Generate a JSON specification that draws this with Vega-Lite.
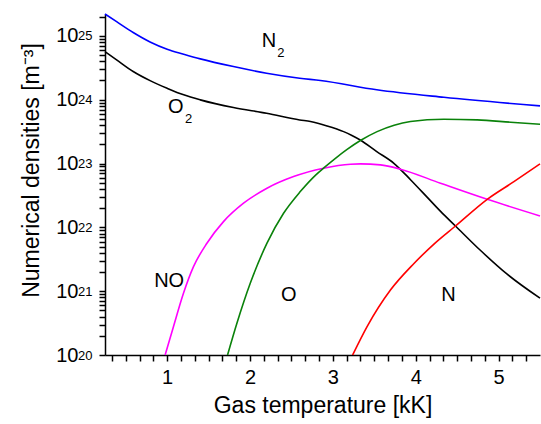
{
  "$schema": "https://vega.github.io/schema/vega-lite/v6.json",
  "width": 435,
  "height": 341,
  "autosize": {"type": "none"},
  "padding": {"left": 105, "top": 14, "right": 1, "bottom": 69},
  "config": {"view": {"stroke": null}},
  "datasets": {
    "curves": [
      {"T": 0.25, "n": 2.2e25, "species": "N2"},
      {"T": 0.39, "n": 1.67e25, "species": "N2"},
      {"T": 0.59, "n": 1.13e25, "species": "N2"},
      {"T": 0.8, "n": 7.96e24, "species": "N2"},
      {"T": 1.0, "n": 6.18e24, "species": "N2"},
      {"T": 1.2, "n": 5.16e24, "species": "N2"},
      {"T": 1.4, "n": 4.36e24, "species": "N2"},
      {"T": 1.8, "n": 3.3e24, "species": "N2"},
      {"T": 2.2, "n": 2.6e24, "species": "N2"},
      {"T": 2.6, "n": 2.17e24, "species": "N2"},
      {"T": 2.85, "n": 2.0e24, "species": "N2"},
      {"T": 3.53, "n": 1.43e24, "species": "N2"},
      {"T": 4.34, "n": 1.09e24, "species": "N2"},
      {"T": 5.5, "n": 8.0e23, "species": "N2"},

      {"T": 0.25, "n": 5.68e24, "species": "O2"},
      {"T": 0.39, "n": 4.21e24, "species": "O2"},
      {"T": 0.59, "n": 2.76e24, "species": "O2"},
      {"T": 0.8, "n": 1.97e24, "species": "O2"},
      {"T": 1.0, "n": 1.51e24, "species": "O2"},
      {"T": 1.2, "n": 1.19e24, "species": "O2"},
      {"T": 1.4, "n": 9.93e23, "species": "O2"},
      {"T": 1.8, "n": 7.52e23, "species": "O2"},
      {"T": 2.2, "n": 6.14e23, "species": "O2"},
      {"T": 2.6, "n": 4.82e23, "species": "O2"},
      {"T": 2.73, "n": 4.54e23, "species": "O2"},
      {"T": 2.93, "n": 3.88e23, "species": "O2"},
      {"T": 3.13, "n": 3.16e23, "species": "O2"},
      {"T": 3.23, "n": 2.75e23, "species": "O2"},
      {"T": 3.33, "n": 2.34e23, "species": "O2"},
      {"T": 3.53, "n": 1.54e23, "species": "O2"},
      {"T": 3.74, "n": 1.0e23, "species": "O2"},
      {"T": 3.94, "n": 5.53e22, "species": "O2"},
      {"T": 4.14, "n": 2.95e22, "species": "O2"},
      {"T": 4.3, "n": 1.78e22, "species": "O2"},
      {"T": 4.48, "n": 1.05e22, "species": "O2"},
      {"T": 4.78, "n": 4.37e21, "species": "O2"},
      {"T": 5.1, "n": 1.86e21, "species": "O2"},
      {"T": 5.5, "n": 7.76e20, "species": "O2"},

      {"T": 0.976, "n": 1.0e20, "species": "NO"},
      {"T": 1.076, "n": 2.78e20, "species": "NO"},
      {"T": 1.197, "n": 9.27e20, "species": "NO"},
      {"T": 1.318, "n": 2.42e21, "species": "NO"},
      {"T": 1.48, "n": 5.64e21, "species": "NO"},
      {"T": 1.68, "n": 1.23e22, "species": "NO"},
      {"T": 1.922, "n": 2.39e22, "species": "NO"},
      {"T": 2.205, "n": 4.1e22, "species": "NO"},
      {"T": 2.526, "n": 6.24e22, "species": "NO"},
      {"T": 2.889, "n": 8.43e22, "species": "NO"},
      {"T": 3.212, "n": 9.75e22, "species": "NO"},
      {"T": 3.333, "n": 9.86e22, "species": "NO"},
      {"T": 3.574, "n": 9.51e22, "species": "NO"},
      {"T": 3.816, "n": 8.15e22, "species": "NO"},
      {"T": 4.299, "n": 4.91e22, "species": "NO"},
      {"T": 4.863, "n": 2.75e22, "species": "NO"},
      {"T": 5.5, "n": 1.51e22, "species": "NO"},

      {"T": 1.729, "n": 1.0e20, "species": "O"},
      {"T": 1.842, "n": 3.14e20, "species": "O"},
      {"T": 2.003, "n": 1.33e21, "species": "O"},
      {"T": 2.205, "n": 5.64e21, "species": "O"},
      {"T": 2.405, "n": 1.66e22, "species": "O"},
      {"T": 2.607, "n": 3.63e22, "species": "O"},
      {"T": 2.789, "n": 6.53e22, "species": "O"},
      {"T": 2.909, "n": 8.91e22, "species": "O"},
      {"T": 3.05, "n": 1.26e23, "species": "O"},
      {"T": 3.172, "n": 1.66e23, "species": "O"},
      {"T": 3.332, "n": 2.29e23, "species": "O"},
      {"T": 3.534, "n": 3.16e23, "species": "O"},
      {"T": 3.74, "n": 3.98e23, "species": "O"},
      {"T": 3.937, "n": 4.54e23, "species": "O"},
      {"T": 4.339, "n": 4.94e23, "species": "O"},
      {"T": 4.743, "n": 4.82e23, "species": "O"},
      {"T": 5.145, "n": 4.44e23, "species": "O"},
      {"T": 5.5, "n": 4.13e23, "species": "O"},

      {"T": 3.239, "n": 1.0e20, "species": "N"},
      {"T": 3.413, "n": 2.78e20, "species": "N"},
      {"T": 3.695, "n": 1.04e21, "species": "N"},
      {"T": 3.976, "n": 2.69e21, "species": "N"},
      {"T": 4.23, "n": 5.62e21, "species": "N"},
      {"T": 4.48, "n": 1.05e22, "species": "N"},
      {"T": 4.863, "n": 2.75e22, "species": "N"},
      {"T": 5.185, "n": 5.2e22, "species": "N"},
      {"T": 5.5, "n": 9.86e22, "species": "N"}
    ],
    "speciesLabels": [
      {"T": 1.024, "n": 1.42e21, "label": "NO"},
      {"T": 2.468, "n": 8.57e20, "label": "O"},
      {"T": 4.396, "n": 8.7e20, "label": "N"},
      {"T": 2.23, "n": 8.2e24, "label": "N"},
      {"T": 1.103, "n": 7.57e23, "label": "O"}
    ],
    "subscripts": [
      {"T": 2.372, "n": 5.32e24, "label": "2"},
      {"T": 1.26, "n": 5.0e23, "label": "2"}
    ]
  },
  "resolve": {"axis": {"x": "independent", "y": "independent"}},
  "layer": [
    {
      "data": {"name": "curves"},
      "mark": {"type": "line", "strokeWidth": 1.6, "interpolate": "monotone"},
      "encoding": {
        "x": {
          "field": "T",
          "type": "quantitative",
          "scale": {"domain": [0.25, 5.5], "nice": false, "zero": false},
          "axis": {
            "orient": "bottom",
            "grid": false,
            "domainColor": "black",
            "domainWidth": 1.5,
            "tickColor": "black",
            "tickWidth": 1.5,
            "tickSize": 6,
            "labelColor": "black",
            "labelFont": "Liberation Sans",
            "labelFontSize": 20,
            "labelPadding": 6,
            "title": "Gas temperature [kK]",
            "titleColor": "black",
            "titleFont": "Liberation Sans",
            "titleFontSize": 23,
            "titleFontWeight": "normal",
            "titlePadding": 7,
            "values": [0.3333, 0.5, 0.6667, 0.8333, 1, 1.1667, 1.3333, 1.5, 1.6667, 1.8333, 2, 2.1667, 2.3333, 2.5, 2.6667, 2.8333, 3, 3.1667, 3.3333, 3.5, 3.6667, 3.8333, 4, 4.1667, 4.3333, 4.5, 4.6667, 4.8333, 5, 5.1667, 5.3333],
            "labelExpr": "abs(datum.value - round(datum.value)) < 0.001 ? format(datum.value, 'd') : ''"
          }
        },
        "y": {
          "field": "n",
          "type": "quantitative",
          "scale": {"type": "log", "domain": [1e20, 2.2e25], "nice": false},
          "axis": {
            "orient": "left",
            "grid": false,
            "domainColor": "black",
            "domainWidth": 1.5,
            "tickColor": "black",
            "tickWidth": 1.5,
            "tickSize": 6,
            "labelColor": "black",
            "labelFont": "Liberation Sans",
            "labelFontSize": 20,
            "labelPadding": 21,
            "labelDy": 4,
            "title": "Numerical densities [m⁻³]",
            "titleColor": "black",
            "titleFont": "Liberation Sans",
            "titleFontSize": 23,
            "titleFontWeight": "normal",
            "titlePadding": 12,
            "titleY": 156,
            "values": [1e20, 2e20, 3e20, 4e20, 5e20, 6e20, 7e20, 8e20, 9e20,
                       1e21, 2e21, 3e21, 4e21, 5e21, 6e21, 7e21, 8e21, 9e21,
                       1e22, 2e22, 3e22, 4e22, 5e22, 6e22, 7e22, 8e22, 9e22,
                       1e23, 2e23, 3e23, 4e23, 5e23, 6e23, 7e23, 8e23, 9e23,
                       1e24, 2e24, 3e24, 4e24, 5e24, 6e24, 7e24, 8e24, 9e24,
                       1e25, 2e25],
            "labelExpr": "abs(log(datum.value)/LN10 - round(log(datum.value)/LN10)) < 0.001 ? '10' : ''"
          }
        },
        "color": {
          "field": "species",
          "type": "nominal",
          "scale": {"domain": ["N2", "O2", "NO", "O", "N"], "range": ["#0000ff", "#000000", "#ff00ff", "#0a820a", "#ff0000"]},
          "legend": null
        }
      }
    },
    {
      "data": {"name": "speciesLabels"},
      "mark": {"type": "text", "fontSize": 20, "font": "Liberation Sans", "color": "black", "align": "center", "baseline": "middle"},
      "encoding": {
        "x": {"field": "T", "type": "quantitative", "axis": null},
        "y": {"field": "n", "type": "quantitative", "axis": null},
        "text": {"field": "label"}
      }
    },
    {
      "data": {"name": "subscripts"},
      "mark": {"type": "text", "fontSize": 13, "font": "Liberation Sans", "color": "black", "align": "center", "baseline": "middle"},
      "encoding": {
        "x": {"field": "T", "type": "quantitative", "axis": null},
        "y": {
          "field": "n",
          "type": "quantitative",
          "axis": {
            "orient": "left",
            "grid": false,
            "title": null,
            "domain": false,
            "ticks": false,
            "labelColor": "black",
            "labelFont": "Liberation Sans",
            "labelFontSize": 13,
            "labelPadding": 13,
            "labelDy": -4,
            "values": [1e20, 1e21, 1e22, 1e23, 1e24, 1e25],
            "labelExpr": "format(round(log(datum.value)/LN10), 'd')"
          }
        },
        "text": {"field": "label"}
      }
    }
  ]
}
